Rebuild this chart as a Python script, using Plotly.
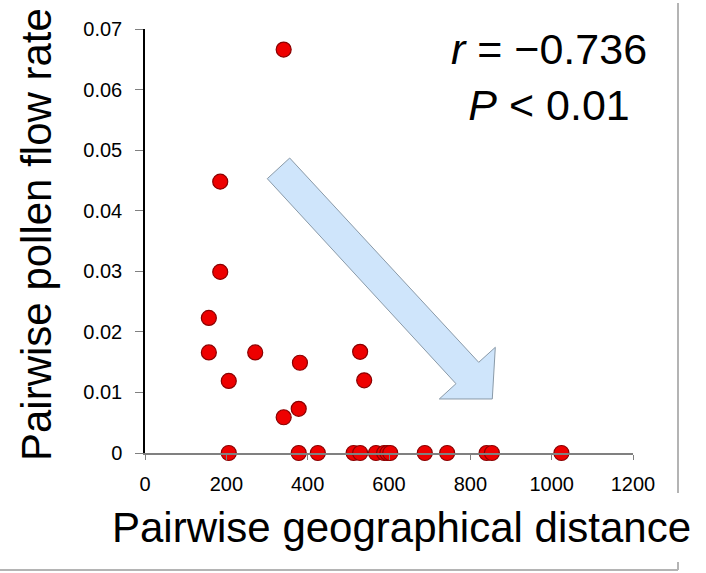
import plotly.graph_objects as go

# Data
distance = [341, 185, 185, 157, 157, 271, 206, 381, 378, 341, 529, 539,
            206, 378, 425, 513, 529, 568, 588, 596, 603, 688, 743, 840, 853, 1024]
pollen_flow = [0.0666, 0.0448, 0.0299, 0.0223, 0.0166, 0.0166, 0.0119, 0.0149, 0.0073, 0.0059, 0.0167, 0.0120,
               0, 0, 0, 0, 0, 0, 0, 0, 0, 0, 0, 0, 0, 0]
x_ticks = [0, 200, 400, 600, 800, 1000, 1200]
y_ticks = [0, 0.01, 0.02, 0.03, 0.04, 0.05, 0.06, 0.07]
y_tick_text = ["0", "0.01", "0.02", "0.03", "0.04", "0.05", "0.06", "0.07"]

W, H = 706, 573
L, R, T, B = 145, 73, 29, 120
PW, PH = W - L - R, H - T - B

def px(x):
    return (x - L) / PW

def py(y):
    return (H - B - y) / PH

FONT = "Liberation Sans, Arial, sans-serif"

fig = go.Figure()
fig.add_trace(go.Scatter(
    x=distance, y=pollen_flow, mode="markers",
    marker=dict(size=15, color="#ee0000", line=dict(color="#8a0000", width=1.2)),
    cliponaxis=False, showlegend=False,
))

# decorative trend arrow (in axis units)
arrow_x = [300.7, 355.8, 820.6, 861.4, 854.0, 723.7, 764.7]
arrow_y = [0.04529, 0.04870, 0.01497, 0.01745, 0.00892, 0.00892, 0.01144]
path = "M " + " L ".join(f"{a},{b}" for a, b in zip(arrow_x, arrow_y)) + " Z"
fig.add_shape(type="path", xref="x", yref="y", path=path,
              fillcolor="#cfe5fb", line=dict(color="#8a9aa8", width=1), layer="below")

# outer frame lines (gray)
frame = dict(type="line", xref="paper", yref="paper", line=dict(color="#b4b4b4", width=2))
fig.add_shape(x0=px(678), x1=px(678), y0=py(3), y1=py(493), **frame)
fig.add_shape(x0=px(678), x1=px(678), y0=py(562), y1=py(570), **frame)
fig.add_shape(x0=px(0), x1=px(678), y0=py(570), y1=py(570), **frame)

fig.update_layout(
    width=W, height=H,
    margin=dict(l=L, r=R, t=T, b=B),
    plot_bgcolor="white", paper_bgcolor="white",
    font=dict(family=FONT, color="black"),
    xaxis=dict(range=[0, 1200], tickvals=x_ticks, showgrid=False, zeroline=False,
               showline=True, linecolor="#808080", linewidth=1.5,
               ticks="outside", ticklen=5, tickcolor="#808080", tickwidth=1,
               tickfont=dict(size=20, family=FONT), ticklabelstandoff=7),
    yaxis=dict(range=[0, 0.07], tickvals=y_ticks, ticktext=y_tick_text, showgrid=False, zeroline=False,
               showline=True, linecolor="black", linewidth=1.5,
               ticks="outside", ticklen=8, tickcolor="#808080", tickwidth=1,
               tickfont=dict(size=20, family=FONT), ticklabelstandoff=9),
    annotations=[
        dict(text="Pairwise geographical distance", xref="paper", yref="paper",
             x=px(401), y=py(527), xanchor="center", yanchor="middle", showarrow=False,
             font=dict(size=42, family=FONT)),
        dict(text="Pairwise pollen flow rate", xref="paper", yref="paper", textangle=-90,
             x=px(37), y=py(235), xanchor="center", yanchor="middle", showarrow=False,
             font=dict(size=42, family=FONT)),
        dict(text="<i>r</i> = \u22120.736<br><i>P</i> &lt; 0.01", xref="paper", yref="paper",
             x=px(549), y=py(77), xanchor="center", yanchor="middle", showarrow=False,
             align="center", font=dict(size=43, family=FONT)),
    ],
)

fig.write_html("out.html")
